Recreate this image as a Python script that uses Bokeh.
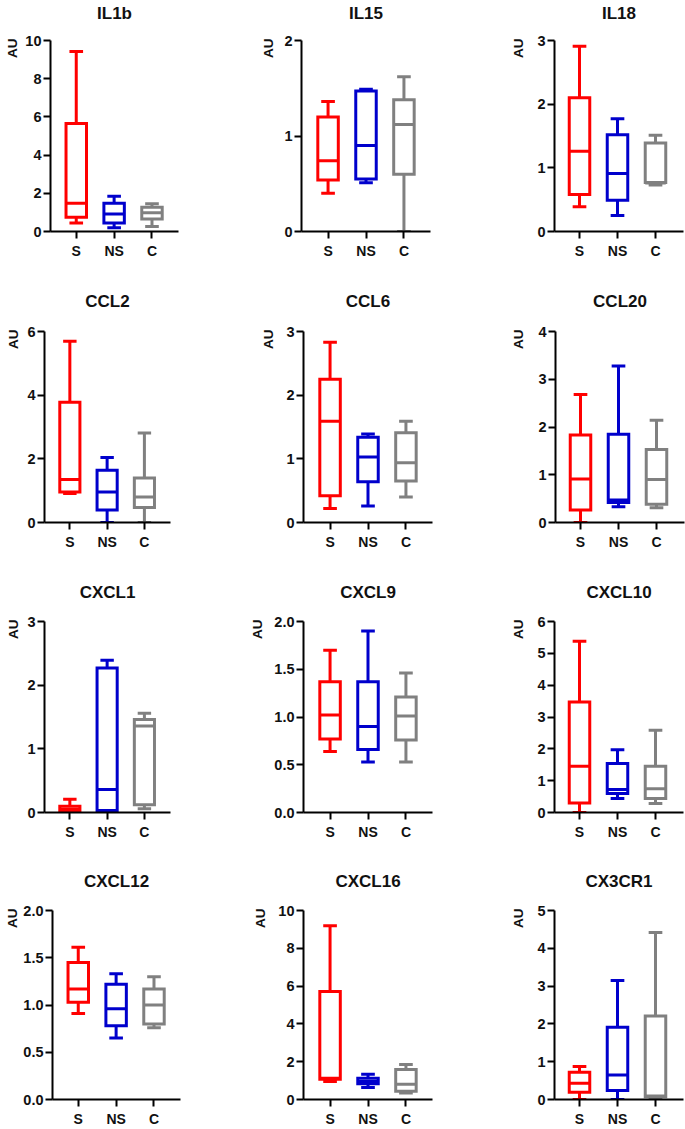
import math
from bokeh.plotting import figure
from bokeh.models import Range1d, FixedTicker, Title, ColumnDataSource
from bokeh.layouts import column, row
from bokeh.embed import file_html
from bokeh.resources import INLINE

# ---------------- data ----------------
categories = ["S", "NS", "C"]
colors = ["#FF0000", "#0000CC", "#808080"]

panel_names = ["IL1b", "IL15", "IL18",
               "CCL2", "CCL6", "CCL20",
               "CXCL1", "CXCL9", "CXCL10",
               "CXCL12", "CXCL16", "CX3CR1"]
y_max = [10, 2, 3, 6, 3, 4, 3, 2.0, 6, 2.0, 10, 5]
y_step = [2, 1, 1, 2, 1, 1, 1, 0.5, 1, 0.5, 2, 1]

# each group: [min, q1, median, q3, max]   (groups S, NS, C)
IL1b = [[0.44, 0.75, 1.48, 5.65, 9.42], [0.20, 0.44, 0.92, 1.48, 1.85], [0.26, 0.66, 0.98, 1.27, 1.45]]
IL15 = [[0.40, 0.54, 0.74, 1.20, 1.36], [0.51, 0.55, 0.90, 1.47, 1.49], [0.00, 0.60, 1.12, 1.38, 1.62]]
IL18 = [[0.39, 0.58, 1.26, 2.10, 2.91], [0.25, 0.49, 0.91, 1.52, 1.77], [0.73, 0.77, 0.76, 1.39, 1.51]]
CCL2 = [[0.91, 0.96, 1.35, 3.78, 5.69], [0.00, 0.39, 0.96, 1.64, 2.04], [0.00, 0.47, 0.80, 1.40, 2.81]]
CCL6 = [[0.22, 0.42, 1.59, 2.25, 2.83], [0.26, 0.64, 1.03, 1.34, 1.39], [0.40, 0.65, 0.94, 1.41, 1.59]]
CCL20 = [[0.00, 0.26, 0.91, 1.83, 2.68], [0.33, 0.42, 0.47, 1.85, 3.28], [0.31, 0.38, 0.90, 1.53, 2.14]]
CXCL1 = [[0.00, 0.02, 0.05, 0.10, 0.21], [0.02, 0.03, 0.36, 2.27, 2.39], [0.06, 0.12, 1.36, 1.46, 1.56]]
CXCL9 = [[0.64, 0.77, 1.02, 1.37, 1.70], [0.53, 0.66, 0.90, 1.37, 1.90], [0.53, 0.76, 1.01, 1.21, 1.46]]
CXCL10 = [[0.00, 0.30, 1.45, 3.47, 5.38], [0.44, 0.60, 0.72, 1.54, 1.97], [0.28, 0.44, 0.75, 1.45, 2.58]]
CXCL12 = [[0.91, 1.03, 1.17, 1.45, 1.61], [0.65, 0.78, 0.96, 1.22, 1.33], [0.76, 0.80, 1.00, 1.17, 1.30]]
CXCL16 = [[0.95, 1.07, 1.13, 5.72, 9.19], [0.64, 0.83, 0.95, 1.13, 1.33], [0.35, 0.43, 0.81, 1.59, 1.85]]
CX3CR1 = [[0.00, 0.19, 0.43, 0.72, 0.87], [0.00, 0.24, 0.65, 1.91, 3.15], [0.00, 0.07, 0.09, 2.21, 4.42]]

panel_stats = [IL1b, IL15, IL18, CCL2, CCL6, CCL20, CXCL1, CXCL9, CXCL10, CXCL12, CXCL16, CX3CR1]

# ---------------- layout (pixels) ----------------
FONT = "Liberation Sans"
col_widths = [228, 228, 229]
col_frame_w = [128, 129, 129]
col_xrange = [(0.32, 3.70), (0.30, 3.70), (0.342, 3.737)]
left_border = [50, 73, 98,
               42, 75, 99,
               42, 75, 98,
               52, 75, 98]
au_standoff = [5, 11, 17,
               7, 15, 19,
               7, 13, 17,
               1, 15, 17]
row_heights = [272, 290, 290, 277]
row_top = [40, 59, 59, 58]
row_frame_h = [191, 191, 191, 192]
title_standoff = [0, 6, 4, 4]

BOX_HALF = 0.27
CAP_HALF = 0.18


def make_panel(i):
    r, c = divmod(i, 3)
    name = panel_names[i]
    stats = panel_stats[i]
    ymax = y_max[i]
    step = y_step[i]
    xlo, xhi = col_xrange[c]
    W = col_widths[c]
    H = row_heights[r]
    lb = left_border[i]
    rb = W - lb - col_frame_w[c]
    tb = row_top[r]
    bb = H - tb - row_frame_h[r]

    p = figure(width=W, height=H, title=None,
               x_range=Range1d(xlo, xhi), y_range=Range1d(0, ymax),
               output_backend="svg", toolbar_location=None,
               min_border_left=lb, min_border_right=rb,
               min_border_top=tb, min_border_bottom=bb)
    p.outline_line_color = None
    p.grid.visible = False
    p.background_fill_color = "white"
    p.border_fill_color = "white"

    xs = [k + 1 for k in range(len(categories))]
    src = ColumnDataSource(dict(
        x=xs,
        lo=[s[0] for s in stats],
        q1=[s[1] for s in stats],
        med=[s[2] for s in stats],
        q3=[s[3] for s in stats],
        hi=[s[4] for s in stats],
        bl=[x - BOX_HALF for x in xs],
        br=[x + BOX_HALF for x in xs],
        cl=[x - CAP_HALF for x in xs],
        cr=[x + CAP_HALF for x in xs],
        color=colors,
    ))
    lw = 3
    p.segment(x0="x", y0="q3", x1="x", y1="hi", source=src, line_color="color", line_width=lw)
    p.segment(x0="x", y0="q1", x1="x", y1="lo", source=src, line_color="color", line_width=lw)
    p.segment(x0="cl", y0="hi", x1="cr", y1="hi", source=src, line_color="color", line_width=lw)
    p.segment(x0="cl", y0="lo", x1="cr", y1="lo", source=src, line_color="color", line_width=lw)
    p.quad(left="bl", right="br", bottom="q1", top="q3", source=src,
           fill_color="white", fill_alpha=1.0, line_color="color", line_width=lw, line_join="miter")
    p.segment(x0="bl", y0="med", x1="br", y1="med", source=src, line_color="color", line_width=lw)

    nt = int(round(ymax / step))
    yt = [round(k * step, 3) for k in range(nt + 1)]
    if step < 1:
        ylab = {v: f"{v:.1f}" for v in yt}
    else:
        ylab = {v: str(int(v)) for v in yt}
    p.yaxis.ticker = FixedTicker(ticks=yt)
    p.yaxis.major_label_overrides = ylab
    p.xaxis.ticker = FixedTicker(ticks=xs)
    p.xaxis.major_label_overrides = {x: cat for x, cat in zip(xs, categories)}
    for ax in (p.xaxis, p.yaxis):
        ax.axis_line_width = 2
        ax.axis_line_color = "black"
        ax.major_tick_line_width = 2
        ax.major_tick_line_color = "black"
        ax.major_tick_in = 0
        ax.major_tick_out = 7
        ax.minor_tick_line_color = None
        ax.major_label_text_font = FONT
        ax.major_label_text_font_style = "bold"
        ax.major_label_text_color = "#111111"
    p.yaxis.major_label_standoff = 2
    p.yaxis.major_label_text_font_size = "14.5px"
    p.xaxis.major_label_standoff = 4
    p.xaxis.major_label_text_font_size = "14px"

    # spacer (nearest the frame), then the panel title above it
    p.add_layout(Title(text=" ", standoff=0, text_font=FONT, text_font_size="14px"), "above")
    p.add_layout(Title(text=name, align="center", standoff=title_standoff[r],
                       text_font=FONT, text_font_style="bold", text_font_size="17px",
                       text_color="#111111"), "above")
    p.add_layout(Title(text="AU", align="right", standoff=au_standoff[i], offset=-2,
                       text_font=FONT, text_font_style="bold", text_font_size="13.5px",
                       text_color="#111111"), "left")
    return p


figs = [make_panel(i) for i in range(len(panel_names))]
layout = column(*[row(*figs[r * 3:(r + 1) * 3]) for r in range(4)])

open("out.html", "w").write(file_html(layout, INLINE))
